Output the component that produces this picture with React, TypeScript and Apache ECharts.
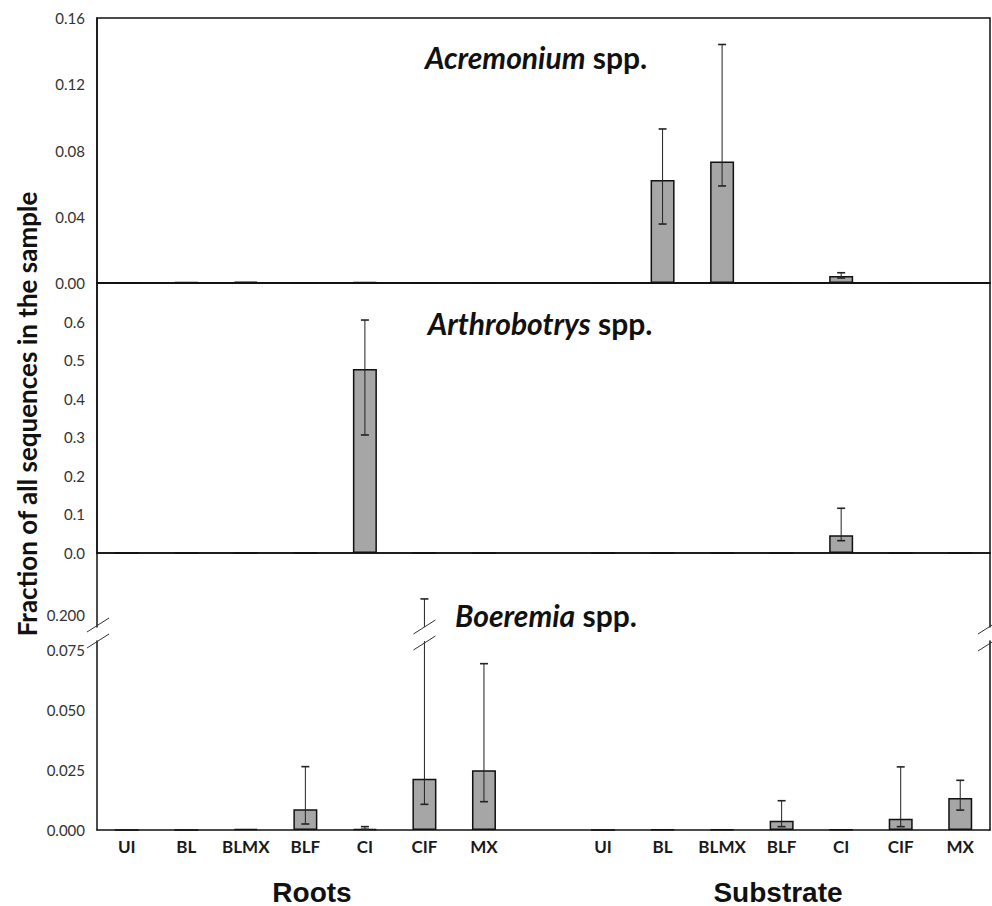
import React, { useEffect, useRef } from 'react';
import * as echarts from 'echarts';

// ---------- data ----------
const categories = ['UI', 'BL', 'BLMX', 'BLF', 'CI', 'CIF', 'MX', '', 'UI', 'BL', 'BLMX', 'BLF', 'CI', 'CIF', 'MX'];
const groupLabels = ['Roots', 'Substrate'];
const genusNames = ['Acremonium', 'Arthrobotrys', 'Boeremia'];
const yAxisTitle = 'Fraction of all sequences in the sample';

// Acremonium spp.
const acreMean = [0, 0.0006, 0.0008, 0, 0.0006, 0, 0, null, 0, 0.0622, 0.0733, 0, 0.0042, 0, 0];
const acreLow = [null, null, null, null, null, null, null, null, null, 0.0356, 0.0586, null, 0.003, null, null];
const acreHigh = [null, null, null, null, null, null, null, null, null, 0.093, 0.144, null, 0.0062, null, null];

// Arthrobotrys spp.
const arthMean = [0, 0, 0, 0, 0.477, 0, 0, null, 0, 0, 0, 0, 0.046, 0, 0];
const arthLow = [null, null, null, null, 0.306, null, null, null, null, null, null, null, 0.032, null, null];
const arthHigh = [null, null, null, null, 0.604, null, null, null, null, null, null, null, 0.116, null, null];

// Boeremia spp.
const boerMean = [0, 0, 0.0005, 0.0086, 0.0005, 0.0214, 0.0249, null, 0, 0.0003, 0.0003, 0.0039, 0.0003, 0.0047, 0.0133];
const boerLow = [null, null, null, 0.0025, 0.0003, 0.0107, 0.0118, null, null, null, null, 0.0014, null, 0.0014, 0.0083];
const boerHigh = [null, null, null, 0.0264, 0.0014, 0.2067, 0.0693, null, null, null, null, 0.0122, null, 0.0263, 0.0207];

// axis ranges
const acreAxis = { min: 0, max: 0.16, interval: 0.04 };
const arthAxis = { min: 0, max: 0.7, interval: 0.1 };
const boerLowAxis = { min: 0, max: 0.07875, interval: 0.025 };
const boerHighAxis = { min: 0.195, max: 0.22583, interval: 0.005 };
const boerHighTick = 0.2;

// ---------- layout ----------
const W = 992;
const H = 906;
const L = 97;
const R = 2;
const G = [
  { top: 18, height: 265 },
  { top: 283, height: 270 },
  { top: 553, height: 74 },
  { top: 641, height: 189 },
];

const errData = (low: (number | null)[], high: (number | null)[]) => {
  const out: number[][] = [];
  low.forEach((lo, i) => {
    const hi = high[i];
    if (lo != null && hi != null) out.push([i, lo, hi]);
  });
  return out;
};

function renderErr(params: any, api: any) {
  const i = api.value(0);
  const lo = api.value(1);
  const hi = api.value(2);
  const cs = params.coordSys;
  const top = cs.y;
  const bot = cs.y + cs.height;
  const pLo = api.coord([i, lo]);
  const pHi = api.coord([i, hi]);
  const x = pLo[0];
  if (pHi[1] > bot || pLo[1] < top) return null;
  const yHi = Math.max(top, Math.min(bot, pHi[1]));
  const yLo = Math.max(top, Math.min(bot, pLo[1]));
  const cap = 4;
  const st = { stroke: '#222', lineWidth: 1 };
  const cst = { stroke: '#222', lineWidth: 1.6 };
  const children: any[] = [
    { type: 'line', shape: { x1: x, y1: yHi, x2: x, y2: yLo }, style: st },
  ];
  if (pHi[1] >= top - 0.5) children.push({ type: 'line', shape: { x1: x - cap, y1: pHi[1], x2: x + cap, y2: pHi[1] }, style: cst });
  if (pLo[1] <= bot + 0.5) children.push({ type: 'line', shape: { x1: x - cap, y1: pLo[1], x2: x + cap, y2: pLo[1] }, style: cst });
  return { type: 'group', children };
}

const near = (v: number, step: number) => Math.abs(v / step - Math.round(v / step)) < 1e-6;

export default function App() {
  const ref = useRef<HTMLDivElement>(null);
  useEffect(() => {
    if (!ref.current) return;
    const chart = echarts.init(ref.current, undefined, { renderer: 'svg' });
    const tickLabel = { fontFamily: 'Lato', fontSize: 15, color: '#333', margin: 12 };
    const axisLine = { show: true, lineStyle: { color: '#111', width: 1.5 } };

    const grid = G.map((g, k) => ({
      left: L,
      right: R,
      top: g.top,
      height: g.height,
      show: k < 2,
      borderColor: '#111',
      borderWidth: 1.5,
      backgroundColor: 'transparent',
    }));

    const xAxis = G.map((_, k) => ({
      type: 'category',
      gridIndex: k,
      data: categories,
      boundaryGap: true,
      axisLine: { show: k !== 2, lineStyle: { color: '#111', width: 1.5 } },
      axisTick: { show: false },
      axisLabel: {
        show: k === 3,
        interval: 0,
        fontFamily: 'Lato',
        fontWeight: 'bold',
        fontSize: 17,
        color: '#1a1a1a',
        margin: 8,
      },
    }));

    const yAxis: any[] = [
      {
        type: 'value', gridIndex: 0, ...acreAxis,
        axisLine, axisTick: { show: false }, splitLine: { show: false },
        axisLabel: { ...tickLabel, formatter: (v: number) => v.toFixed(2) },
      },
      {
        type: 'value', gridIndex: 1, ...arthAxis,
        axisLine, axisTick: { show: false }, splitLine: { show: false },
        axisLabel: { ...tickLabel, formatter: (v: number) => (v > 0.65 ? '' : v.toFixed(1)) },
      },
      {
        type: 'value', gridIndex: 2, ...boerHighAxis,
        axisLine, axisTick: { show: false }, splitLine: { show: false },
        axisLabel: { ...tickLabel, formatter: (v: number) => (Math.abs(v - boerHighTick) < 1e-6 ? boerHighTick.toFixed(3) : '') },
      },
      {
        type: 'value', gridIndex: 3, ...boerLowAxis,
        axisLine, axisTick: { show: false }, splitLine: { show: false },
        axisLabel: { ...tickLabel, formatter: (v: number) => (near(v, 0.025) ? v.toFixed(3) : '') },
      },
      {
        type: 'value', gridIndex: 2, position: 'right', ...boerHighAxis,
        axisLine, axisTick: { show: false }, splitLine: { show: false }, axisLabel: { show: false },
      },
      {
        type: 'value', gridIndex: 3, position: 'right', ...boerLowAxis,
        axisLine, axisTick: { show: false }, splitLine: { show: false }, axisLabel: { show: false },
      },
    ];

    const barStyle = { color: '#a6a6a6', borderColor: '#111', borderWidth: 1.5 };
    const bar = (k: number, data: any[]) => ({
      type: 'bar', xAxisIndex: k, yAxisIndex: k, data, barWidth: 24, itemStyle: barStyle, z: 2,
    });
    const err = (k: number, data: number[][]) => ({
      type: 'custom', xAxisIndex: k, yAxisIndex: k, data, renderItem: renderErr, clip: false, z: 3,
      encode: { x: 0, y: [1, 2] },
    });

    const slot = (W - L - R) / categories.length;
    const cifX = L + (categories.indexOf('CIF') + 0.5) * slot;
    const brk = (x: number, y: number) => ({
      type: 'line',
      shape: { x1: x - 11, y1: y + 7, x2: x + 11, y2: y - 7 },
      style: { stroke: '#333', lineWidth: 1 },
      z: 10,
    });
    const upperEnd = G[2].top + G[2].height - 2;
    const lowerStart = G[3].top;

    const titleRich = {
      i: { fontFamily: 'Lato', fontStyle: 'italic', fontWeight: 'bold', fontSize: 30, fill: '#111' },
      n: { fontFamily: 'Lato', fontWeight: 'bold', fontSize: 30, fill: '#111' },
    };
    const titleText = (name: string, x: number, y: number) => ({
      type: 'text', x, y, z: 10,
      style: { text: `{i|${name}}{n| spp.}`, rich: titleRich, align: 'center', verticalAlign: 'middle' },
    });

    const graphic: any[] = [
      titleText(genusNames[0], 536, 57),
      titleText(genusNames[1], 540, 323),
      titleText(genusNames[2], 546, 615),
      {
        type: 'text', x: 27, y: 414, rotation: Math.PI / 2, z: 10,
        style: { text: yAxisTitle, font: 'bold 26px Lato', fill: '#111', align: 'center', verticalAlign: 'middle' },
      },
      {
        type: 'text', x: 312, y: 892, z: 10,
        style: { text: groupLabels[0], font: 'bold 28px "Liberation Sans"', fill: '#111', align: 'center', verticalAlign: 'middle' },
      },
      {
        type: 'text', x: 778, y: 892, z: 10,
        style: { text: groupLabels[1], font: 'bold 28px "Liberation Sans"', fill: '#111', align: 'center', verticalAlign: 'middle' },
      },
      brk(L + 1, upperEnd),
      brk(L + 1, lowerStart),
      brk(W - R - 1, upperEnd + 2),
      brk(W - R - 1, lowerStart + 3),
      brk(cifX, upperEnd + 2),
      brk(cifX, lowerStart + 2),
    ];

    chart.setOption({
      animation: false,
      backgroundColor: '#fff',
      grid,
      xAxis,
      yAxis,
      series: [
        bar(0, acreMean),
        err(0, errData(acreLow, acreHigh)),
        bar(1, arthMean),
        err(1, errData(arthLow, arthHigh)),
        err(2, errData(boerLow, boerHigh)),
        bar(3, boerMean),
        err(3, errData(boerLow, boerHigh)),
      ],
      graphic,
    });
    return () => chart.dispose();
  }, []);
  return <div ref={ref} style={{ position: 'fixed', left: 0, top: 0, width: W, height: H }} />;
}
